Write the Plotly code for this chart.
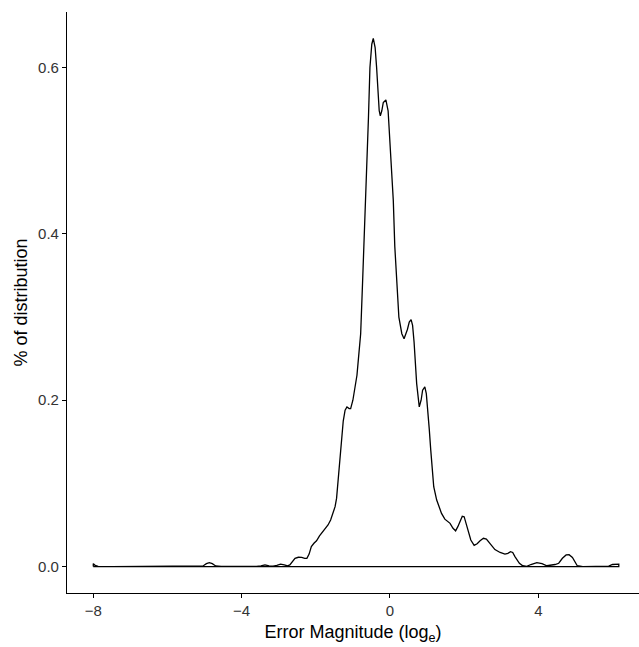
import plotly.graph_objects as go

# Density estimate of error magnitude (log_e)
error_log = [
    -8.00, -7.95, -7.87, -7.50, -6.50, -5.60, -5.20, -5.04, -4.95, -4.87, -4.79, -4.70,
    -4.55, -4.00, -3.60, -3.48, -3.37, -3.26, -3.15, -3.05, -2.95, -2.85, -2.76, -2.70,
    -2.63, -2.56, -2.47, -2.38, -2.30, -2.24, -2.18, -2.12, -2.05, -1.98, -1.90, -1.80,
    -1.72, -1.67, -1.60, -1.53, -1.48, -1.44, -1.40, -1.35, -1.31, -1.26, -1.21, -1.16,
    -1.10, -1.06, -1.00, -0.94, -0.89, -0.85, -0.79, -0.74, -0.70, -0.66, -0.63, -0.58,
    -0.54, -0.49, -0.45, -0.40, -0.36, -0.33, -0.29, -0.26, -0.22, -0.18, -0.11, -0.05,
    0.02, 0.09, 0.13, 0.18, 0.24, 0.32, 0.38, 0.47, 0.52, 0.57, 0.61, 0.65,
    0.72, 0.79, 0.84, 0.88, 0.94, 0.98, 1.01, 1.06, 1.10, 1.14, 1.18, 1.26,
    1.33, 1.39, 1.48, 1.56, 1.62, 1.70, 1.77, 1.83, 1.89, 1.95, 2.00, 2.07,
    2.13, 2.18, 2.27, 2.35, 2.43, 2.52, 2.60, 2.70, 2.83, 2.97, 3.10, 3.18,
    3.25, 3.31, 3.37, 3.49, 3.58, 3.69, 3.80, 3.96, 4.10, 4.23, 4.32, 4.45,
    4.55, 4.65, 4.75, 4.83, 4.92, 4.99, 5.05, 5.20, 5.80, 5.90, 6.00, 6.10, 6.17,
]
density = [
    0.0036, 0.0015, 0.0002, 0.0000, 0.0000, 0.0000, 0.0003, 0.0008, 0.0035, 0.0048, 0.0035, 0.0008,
    0.0002, 0.0000, 0.0003, 0.0009, 0.0020, 0.0009, 0.0006, 0.0016, 0.0030, 0.0020, 0.0008, 0.0020,
    0.0060, 0.0100, 0.0112, 0.0110, 0.0098, 0.0100, 0.0150, 0.0240, 0.0280, 0.0310, 0.0370, 0.0430,
    0.0470, 0.0500, 0.0560, 0.0640, 0.0720, 0.0820, 0.1040, 0.1280, 0.1520, 0.1750, 0.1880, 0.1920,
    0.1900, 0.1900, 0.2000, 0.2140, 0.2300, 0.2500, 0.2800, 0.3400, 0.3850, 0.4400, 0.4800, 0.5400,
    0.6000, 0.6280, 0.6350, 0.6240, 0.6000, 0.5750, 0.5480, 0.5420, 0.5480, 0.5580, 0.5610, 0.5480,
    0.5000, 0.4400, 0.3850, 0.3400, 0.3000, 0.2800, 0.2740, 0.2850, 0.2940, 0.2970, 0.2900, 0.2700,
    0.2200, 0.1920, 0.2000, 0.2120, 0.2160, 0.2080, 0.1950, 0.1650, 0.1400, 0.1150, 0.0960, 0.0800,
    0.0700, 0.0640, 0.0570, 0.0540, 0.0520, 0.0460, 0.0430, 0.0480, 0.0550, 0.0605, 0.0600, 0.0490,
    0.0400, 0.0320, 0.0255, 0.0275, 0.0310, 0.0340, 0.0330, 0.0270, 0.0205, 0.0170, 0.0150, 0.0160,
    0.0180, 0.0170, 0.0120, 0.0040, 0.0010, 0.0002, 0.0025, 0.0048, 0.0035, 0.0010, 0.0015, 0.0025,
    0.0040, 0.0100, 0.0140, 0.0142, 0.0110, 0.0050, 0.0010, 0.0000, 0.0000, 0.0005, 0.0025, 0.0030, 0.0030,
]

x_ticks = [-8, -4, 0, 4]
x_tick_labels = ["\u22128", "\u22124", "0", "4"]
y_ticks = [0.0, 0.2, 0.4, 0.6]
y_tick_labels = ["0.0", "0.2", "0.4", "0.6"]

# closed density polygon (ggplot geom_density style)
poly_x = [error_log[0]] + error_log + [error_log[-1], error_log[0]]
poly_y = [0.0] + density + [0.0, 0.0]

FONT = "Liberation Sans, Arial, sans-serif"

fig = go.Figure()
fig.add_trace(go.Scatter(
    x=poly_x, y=poly_y, mode="lines",
    line=dict(color="black", width=1.3),
    hoverinfo="skip", showlegend=False,
))

span_x = error_log[-1] - error_log[0]
ymax = max(density)
fig.update_layout(
    width=639, height=647,
    margin=dict(l=67, r=0, t=12, b=54),
    paper_bgcolor="white", plot_bgcolor="white",
    font=dict(family=FONT, color="black"),
    showlegend=False,
    xaxis=dict(
        range=[error_log[0] - 0.05 * span_x, 6.715],
        tickvals=x_ticks, ticktext=x_tick_labels,
        showgrid=False, zeroline=False,
        showline=True, linecolor="black", linewidth=1.1,
        ticks="outside", ticklen=4, tickcolor="black", tickwidth=1.1,
        tickfont=dict(size=15, color="#333333", family=FONT),
        title=dict(text="Error Magnitude (log<sub>e</sub>)", font=dict(size=18, color="black", family=FONT), standoff=7),
    ),
    yaxis=dict(
        range=[-0.05 * ymax, ymax * 1.05],
        tickvals=y_ticks, ticktext=y_tick_labels,
        showgrid=False, zeroline=False,
        showline=True, linecolor="black", linewidth=1.1,
        ticks="outside", ticklen=4, tickcolor="black", tickwidth=1.1,
        tickfont=dict(size=15, color="#333333", family=FONT),
        title=dict(text="% of distribution", font=dict(size=18, color="black", family=FONT), standoff=5),
    ),
)

fig.write_html("out.html")
